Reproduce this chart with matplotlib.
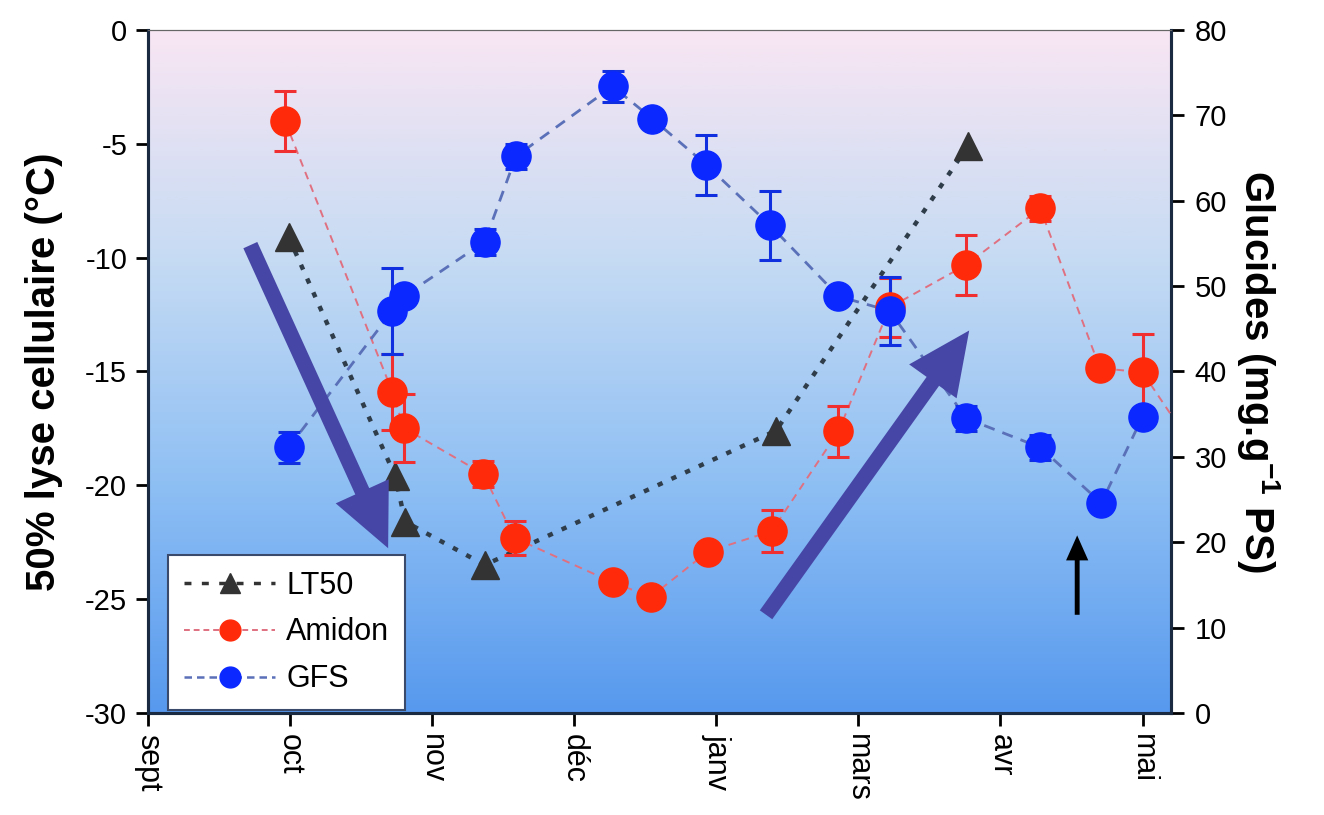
import numpy as np
import matplotlib
matplotlib.use("Agg")
import matplotlib.pyplot as plt
from matplotlib.colors import LinearSegmentedColormap

plt.rcParams['font.family'] = ['Liberation Sans', 'DejaVu Sans']
plt.rcParams['mathtext.default'] = 'regular'
plt.rcParams['axes.unicode_minus'] = False

months = ['sept', 'oct', 'nov', 'déc', 'janv', 'mars', 'avr', 'mai']

# LT50 (left axis, °C)
lt50_x = [0.99, 1.74, 1.81, 2.37, 4.42, 5.77]
lt50_y = [-9.1, -19.6, -21.6, -23.5, -17.6, -5.1]

# Amidon (right axis, mg/g)
amidon_x = [0.965, 1.72, 1.80, 2.36, 2.58, 3.27, 3.54, 3.94, 4.39, 4.86, 5.22, 5.76, 6.28, 6.70, 7.00, 7.40]
amidon_y = [69.3, 37.6, 33.4, 28.0, 20.5, 15.3, 13.6, 18.9, 21.3, 33.0, 47.5, 52.5, 59.1, 40.4, 39.9, 30.0]
amidon_err = [3.5, 4.5, 4.0, 1.5, 2.0, 0.0, 0.0, 0.0, 2.5, 3.0, 3.5, 3.5, 1.5, 1.0, 4.5, 0.0]

# GFS (right axis, mg/g)
gfs_x = [0.99, 1.72, 1.80, 2.37, 2.59, 3.27, 3.55, 3.93, 4.38, 4.86, 5.22, 5.76, 6.28, 6.71, 7.00]
gfs_y = [31.1, 47.1, 48.8, 55.2, 65.2, 73.4, 69.6, 64.2, 57.1, 48.8, 47.1, 34.5, 31.1, 24.6, 34.7]
gfs_err = [1.8, 5.0, 0.0, 1.5, 1.5, 1.8, 1.0, 3.5, 4.0, 1.0, 4.0, 1.5, 1.5, 0.0, 1.0]

fig = plt.figure(figsize=(13.24, 8.15), dpi=100)
ax = fig.add_axes([0.1118, 0.1252, 0.7726, 0.838])
ax2 = ax.twinx()

# gradient background
cmap = LinearSegmentedColormap.from_list('bg', ['#f9e6f3', '#c6dbf3', '#8ebff4', '#5799ee'])
grad = np.linspace(0, 1, 256).reshape(-1, 1)
ax.imshow(grad, extent=[0, 1, 0, 1], transform=ax.transAxes, cmap=cmap,
          aspect='auto', zorder=0)

ax.plot(lt50_x, lt50_y, linestyle=(0, (1.2, 2.2)), color='#2f3d4a', lw=3.2,
        marker='^', ms=20, mfc='#333333', mec='#333333', zorder=3)

ax2.plot(amidon_x, amidon_y, linestyle=(0, (4, 3)), color='#e07080', lw=1.4, zorder=3)
ax2.errorbar(amidon_x, amidon_y, yerr=amidon_err, fmt='none', ecolor='#f03030',
             elinewidth=2.2, capsize=8, capthick=2.2, zorder=4)
ax2.plot(amidon_x, amidon_y, linestyle='none', marker='o', ms=21,
         mfc='#ff2a0a', mec='#ff2a0a', zorder=5)

ax2.plot(gfs_x, gfs_y, linestyle=(0, (4, 3)), color='#5a70b8', lw=2.0, zorder=3)
ax2.errorbar(gfs_x, gfs_y, yerr=gfs_err, fmt='none', ecolor='#1030e0',
             elinewidth=2.2, capsize=8, capthick=2.2, zorder=4)
ax2.plot(gfs_x, gfs_y, linestyle='none', marker='o', ms=21,
         mfc='#0a28ff', mec='#0a28ff', zorder=5)

# arrows
ax2.annotate('', xy=(1.69, 19.3), xytext=(0.72, 54.8),
             arrowprops=dict(width=11, headwidth=42, headlength=45, color='#4646a6', lw=0),
             zorder=6)
ax2.annotate('', xy=(5.78, 44.8), xytext=(4.35, 11.5),
             arrowprops=dict(width=11, headwidth=42, headlength=45, color='#4646a6', lw=0),
             zorder=6)
ax2.annotate('', xy=(6.54, 20.8), xytext=(6.54, 11.5),
             arrowprops=dict(width=3.5, headwidth=16, headlength=18, color='black', lw=0),
             zorder=6)

ax.set_xlim(0, 7.2)
ax.set_ylim(-30, 0)
ax2.set_ylim(0, 80)
ax.set_xticks(range(len(months)))
ax.set_xticklabels(months, rotation=270, fontsize=22, va='top')
ax.set_yticks(range(-30, 1, 5))
ax.tick_params(axis='both', direction='out', length=9, width=2, labelsize=21, pad=6)
ax.tick_params(axis='x', labelsize=22)
ax2.set_yticks(range(0, 81, 10))
ax2.tick_params(axis='y', direction='out', length=9, width=2, labelsize=21, pad=8)

ax.set_ylabel('50% lyse cellulaire (°C)', fontsize=29, fontweight='bold', labelpad=16)
ax2.set_ylabel('Glucides (mg.g$^{-1}$ PS)', fontsize=29, fontweight='bold',
               rotation=270, labelpad=40)

for a in (ax, ax2):
    a.spines['left'].set_linewidth(2.2)
    a.spines['right'].set_linewidth(2.2)
    a.spines['bottom'].set_linewidth(2.2)
    a.spines['top'].set_color('#666666')
    a.spines['left'].set_color('#1a2a40')
    a.spines['right'].set_color('#1a2a40')
    a.spines['bottom'].set_color('#1a2a40')

lh1, = ax.plot([], [], linestyle=(0, (2, 3)), color='#333333', lw=2.5, marker='^',
               ms=14, mfc='#333333', mec='#333333')
lh2, = ax.plot([], [], linestyle=(0, (3, 2)), color='#e07080', lw=1.4, marker='o',
               ms=15, mfc='#ff2a0a', mec='#ff2a0a')
lh3, = ax.plot([], [], linestyle=(0, (3, 2)), color='#5a70b8', lw=1.8, marker='o',
               ms=15, mfc='#0a28ff', mec='#0a28ff')
leg = ax2.legend([lh1, lh2, lh3], ['LT50', 'Amidon', 'GFS'], loc='lower left',
                 bbox_to_anchor=(0.02, 0.005), fontsize=22, frameon=True,
                 fancybox=False, framealpha=1, edgecolor='#3a4a6a',
                 handlelength=3.0, borderpad=0.5, labelspacing=0.55,
                 handletextpad=0.35, borderaxespad=0.0)
leg.get_frame().set_linewidth(1.5)
leg.set_zorder(10)

fig.savefig('out.png', dpi=100)
